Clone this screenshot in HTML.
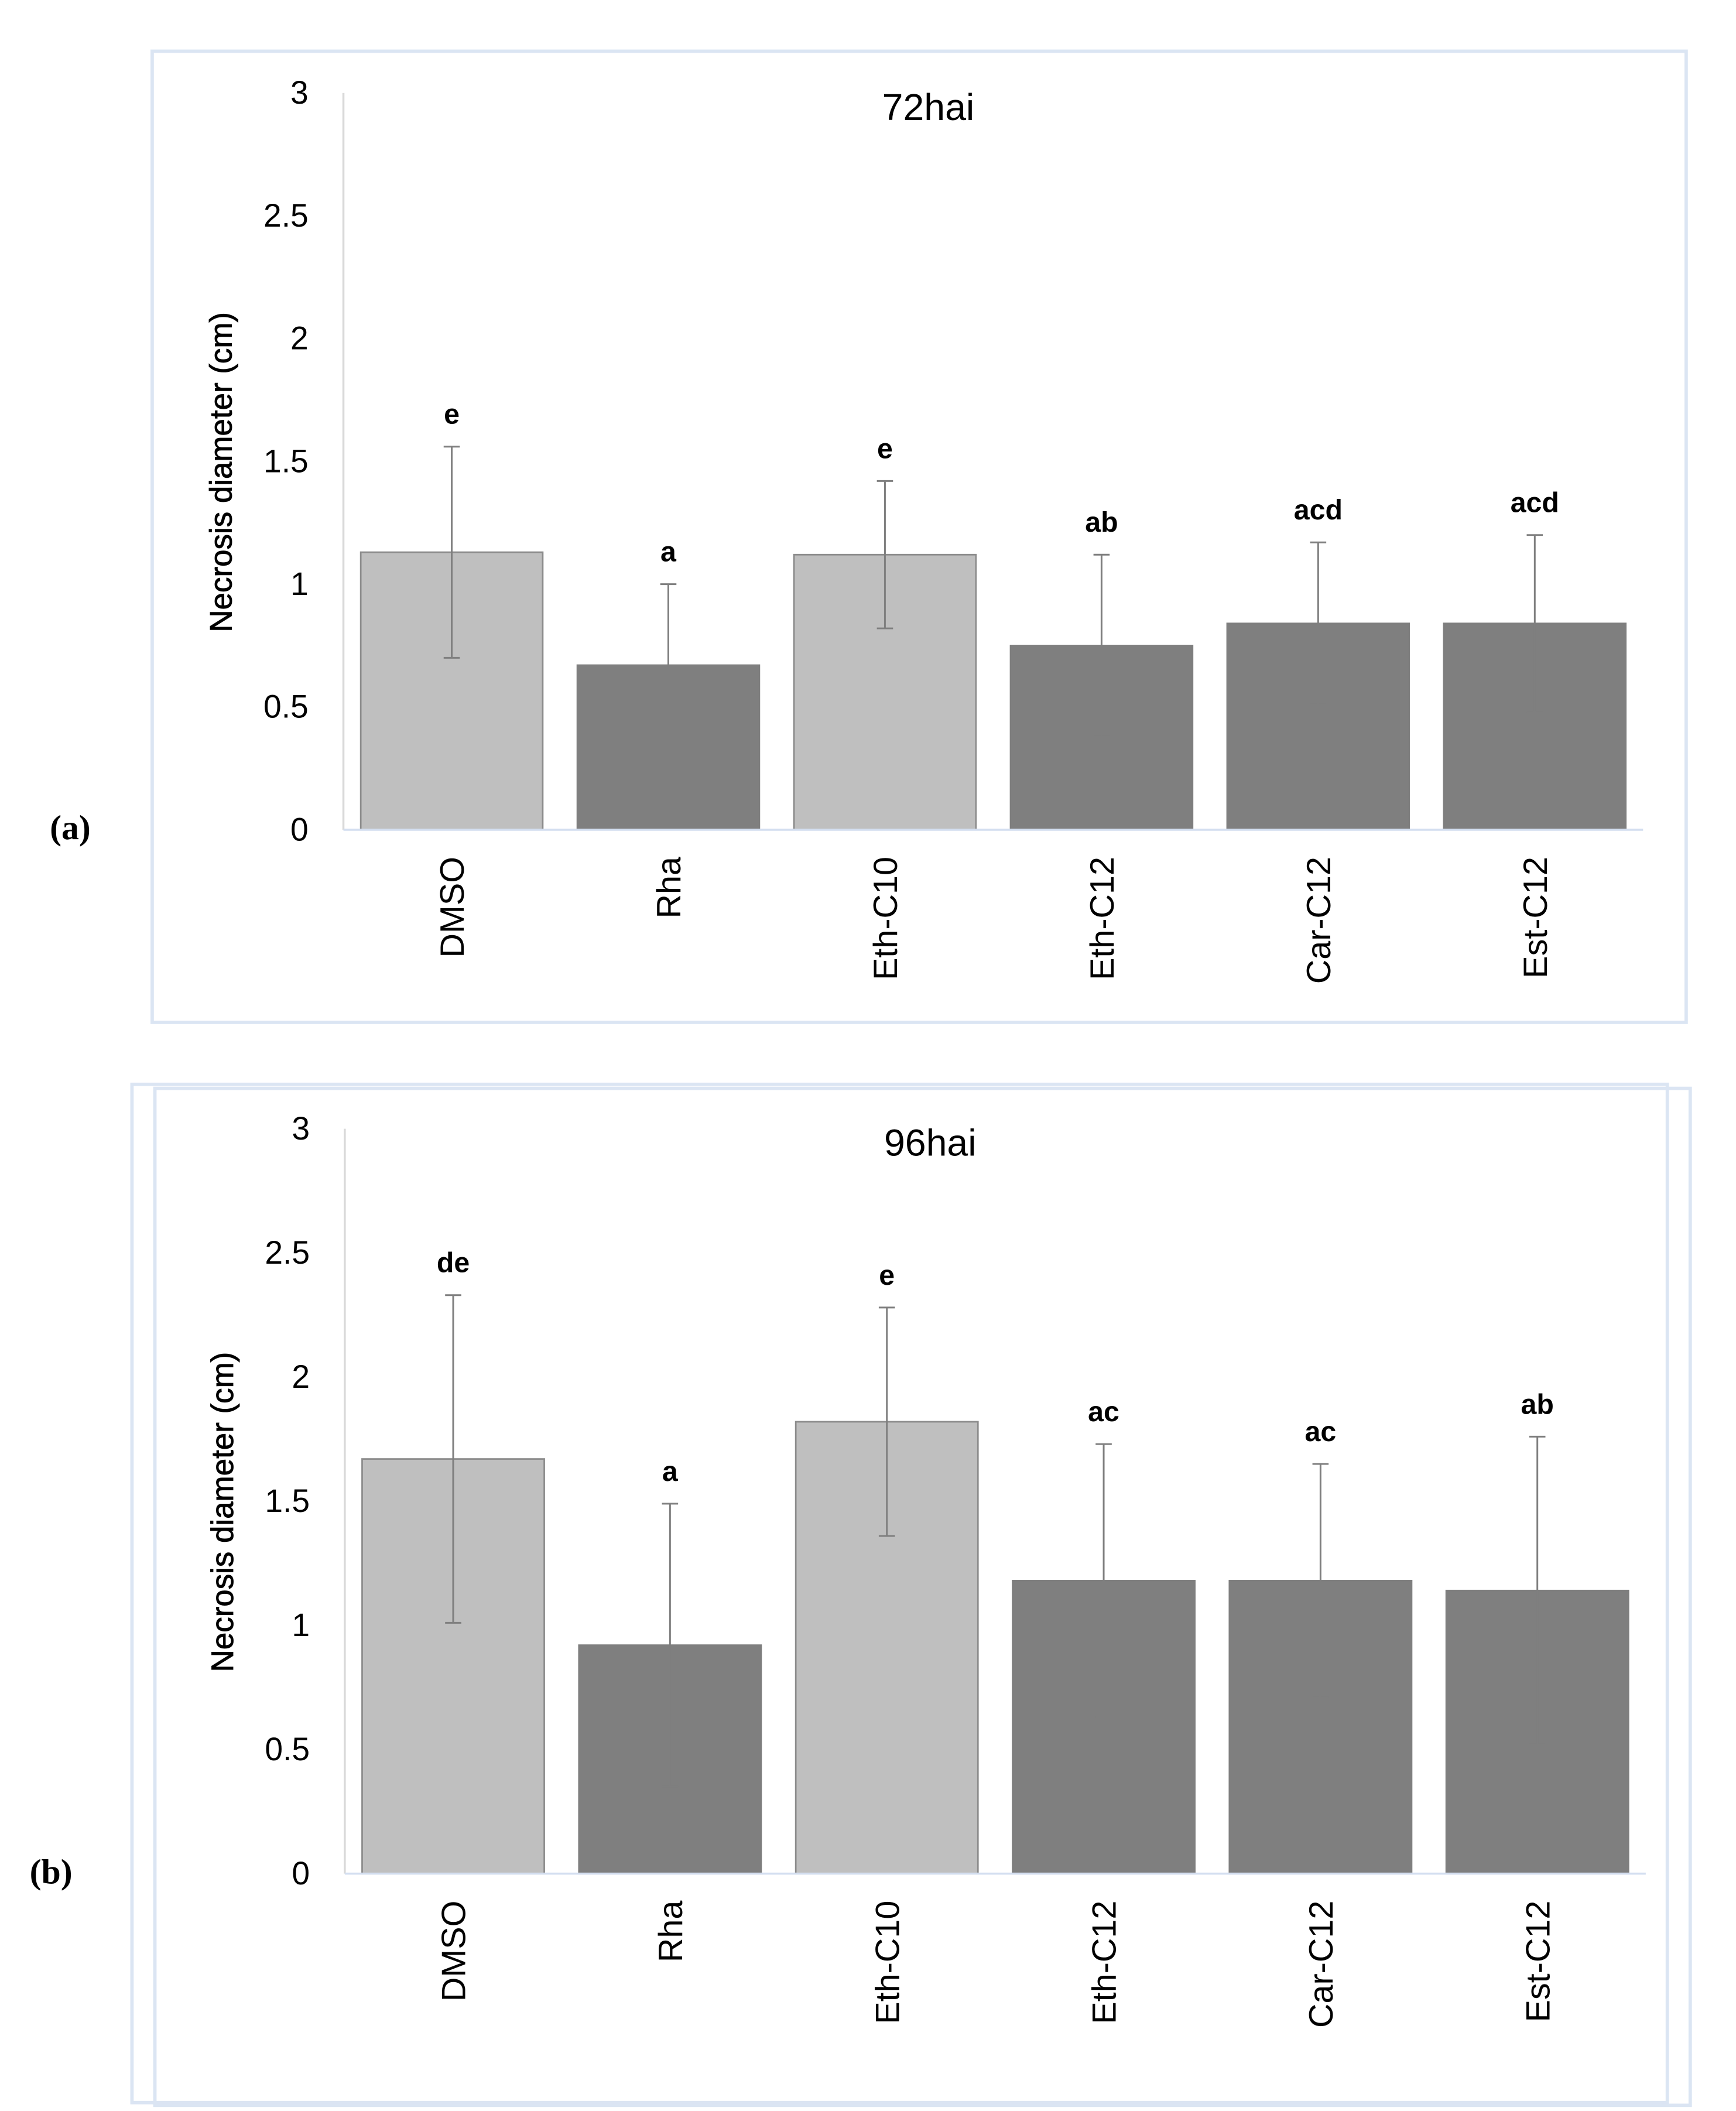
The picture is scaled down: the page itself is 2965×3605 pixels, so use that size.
<!DOCTYPE html>
<html><head><meta charset="utf-8"><style>
html,body{margin:0;padding:0;background:#fff;}
svg{display:block;}
text{font-family:"Liberation Sans",sans-serif;}
</style></head><body>
<svg id="fig" width="2965" height="3605" viewBox="0 0 1289 1567.2" xmlns="http://www.w3.org/2000/svg">
<rect x="113" y="38" width="1139" height="721" fill="none" stroke="#dbe5f3" stroke-width="2.5"/>
<rect x="98" y="805" width="1140" height="756" fill="none" stroke="#dbe5f3" stroke-width="2.5"/>
<rect x="115" y="808" width="1140" height="755" fill="none" stroke="#dbe5f3" stroke-width="2.5"/>
<text x="37" y="623" font-weight="bold" font-size="26" style="font-family:'Liberation Serif',serif">(a)</text>
<text x="22" y="1398" font-weight="bold" font-size="26" style="font-family:'Liberation Serif',serif">(b)</text>
<g id="ga"></g><g id="gb"></g>
</svg>
<script>
const categories=["DMSO","Rha","Eth-C10","Eth-C12","Car-C12","Est-C12"];
const lightBars=[true,false,true,false,false,false];
const yTicks=[0,0.5,1,1.5,2,2.5,3];
const yTickLabels=["0","0.5","1","1.5","2","2.5","3"];
const valuesA=[1.13,0.67,1.12,0.75,0.84,0.84];
const errorsA=[0.43,0.33,0.30,0.37,0.33,0.36];
const lettersA=["e","a","e","ab","acd","acd"];
const valuesB=[1.67,0.92,1.82,1.18,1.18,1.14];
const errorsB=[0.66,0.57,0.46,0.55,0.47,0.62];
const lettersB=["de","a","e","ac","ac","ab"];
const NS="http://www.w3.org/2000/svg";
function mk(g,tag,attrs){const e=document.createElementNS(NS,tag);for(const k in attrs)e.setAttribute(k,attrs[k]);g.appendChild(e);return e;}
function drawPanel(gid,title,vals,errs,letters,x0,x1,y0,y3,p){
  const g=document.getElementById(gid);
  const ys=v=>y0-(y0-y3)*v/3;
  const bw=(x1-x0)/categories.length;
  const xc=i=>x0+bw*(i+0.5);
  let l=mk(g,'line',{x1:x0,x2:x0,y1:y3,y2:y0,stroke:'#d9d9d9','stroke-width':1.5});
  
  
  yTicks.forEach((t,i)=>{const tx=mk(g,'text',{x:x0-26,y:ys(t)+8,'text-anchor':'end','font-size':24,fill:'#000'});tx.textContent=yTickLabels[i];
    
    });
  const yt=mk(g,'text',{transform:`translate(${x0-83},${(y0+y3)/2+8}) rotate(-90)`,'text-anchor':'middle','font-size':23,fill:'#000','stroke':'#000','stroke-width':0.4});
  yt.textContent='Necrosis diameter (cm)';
  
  
  const tt=mk(g,'text',{x:(x0+x1)/2-(x1-x0)*0.05,y:y3+20,'text-anchor':'middle','font-size':28,fill:'#000'});
  tt.textContent=title;
  
  
  categories.forEach((c,i)=>{
    const w=bw*0.84, x=xc(i)-w/2, top=ys(vals[i]);
    const r=mk(g,'rect',{x:x,y:top,width:w,height:y0-top,fill:lightBars[i]?'#bfbfbf':'#7f7f7f',stroke:lightBars[i]?'#8c8c8c':'#7f7f7f','stroke-width':1.2});
    
    
    const eh=ys(vals[i]+errs[i]), el=ys(vals[i]-errs[i]);
    const e=mk(g,'path',{d:`M${xc(i)},${eh}V${el}M${xc(i)-6},${eh}H${xc(i)+6}M${xc(i)-6},${el}H${xc(i)+6}`,stroke:'#7f7f7f','stroke-width':1.3,fill:'none'});
    
    
    const lt=mk(g,'text',{x:xc(i),y:eh-17,'text-anchor':'middle','font-size':21,'font-weight':'bold',fill:'#000'});
    lt.textContent=letters[i];
    
    
    const cl=mk(g,'text',{transform:`translate(${xc(i)+9},${y0+20}) rotate(-90)`,'text-anchor':'end','font-size':25,fill:'#000'});
    cl.textContent=c;
    
    
  });
  const xa=mk(g,'line',{x1:x0,x2:x1,y1:y0,y2:y0,stroke:'#d3def0','stroke-width':1.5});
  
  
}
drawPanel('ga','72hai',valuesA,errorsA,lettersA,255,1220,616,69,'a');
drawPanel('gb','96hai',valuesB,errorsB,lettersB,256,1222,1391,838,'b');
</script>
</body></html>
